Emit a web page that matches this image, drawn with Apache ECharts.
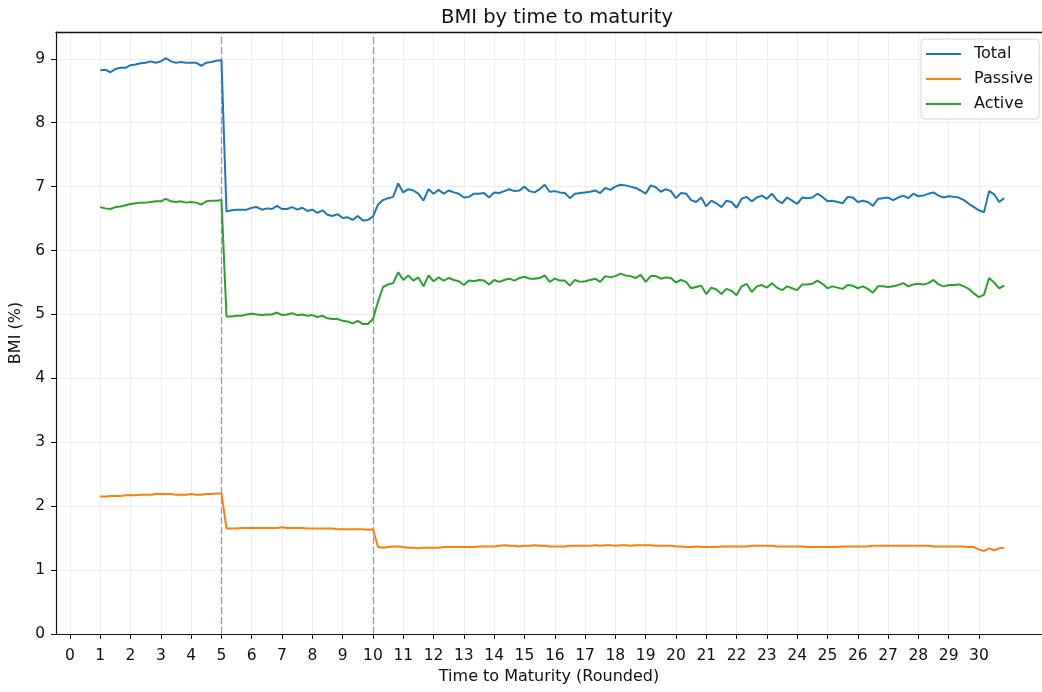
<!DOCTYPE html>
<html>
<head>
<meta charset="utf-8">
<script src="https://cdn.jsdelivr.net/npm/echarts@6/dist/echarts.min.js"></script>
<style>
  html, body { margin: 0; padding: 0; background: #fff; }
  #chart { width: 1042px; height: 692px; }
</style>
</head>
<body>
<div id="chart"></div>
<script>
// Sampling grid of the x values (years to maturity)
const maturityStart = 1;
const maturityStep = 1 / 6;

const seriesNames = ['Total', 'Passive', 'Active'];

const total = [
  8.82, 8.83, 8.79, 8.84, 8.86, 8.86, 8.90, 8.91, 8.93, 8.94, 8.96, 8.94, 8.96, 9.01, 8.96, 8.94, 8.95, 8.94, 8.94, 8.94, 8.89, 8.94, 8.95, 8.97, 8.98,
  6.61, 6.63, 6.64, 6.64, 6.64, 6.67, 6.68, 6.64, 6.66, 6.65, 6.70, 6.65, 6.65, 6.68, 6.64, 6.67, 6.62, 6.64, 6.59, 6.63, 6.56, 6.54, 6.57, 6.51, 6.52, 6.48, 6.54, 6.47, 6.48, 6.53,
  6.72, 6.79, 6.82, 6.84, 7.05, 6.91,
  6.96, 6.94, 6.89, 6.78, 6.96, 6.89,
  6.95, 6.89, 6.94, 6.91, 6.89, 6.83,
  6.84, 6.89, 6.89, 6.90, 6.83, 6.91,
  6.90, 6.93, 6.96, 6.93, 6.94, 7.00,
  6.93, 6.91, 6.96, 7.03, 6.92, 6.93,
  6.91, 6.90, 6.82, 6.89, 6.90, 6.91,
  6.92, 6.94, 6.90, 6.98, 6.95, 7.00,
  7.03, 7.02, 7.00, 6.98, 6.94, 6.89,
  7.02, 6.99, 6.92, 6.96, 6.93, 6.82,
  6.90, 6.89, 6.79, 6.76, 6.83, 6.69,
  6.78, 6.74, 6.68, 6.78, 6.76, 6.67,
  6.81, 6.84, 6.77, 6.83, 6.86, 6.81,
  6.89, 6.79, 6.74, 6.83, 6.78, 6.73,
  6.83, 6.82, 6.83, 6.89, 6.84, 6.77,
  6.78, 6.76, 6.74, 6.84, 6.83, 6.76,
  6.78, 6.76, 6.70, 6.81, 6.82, 6.83,
  6.79, 6.83, 6.86, 6.82, 6.89, 6.85,
  6.86, 6.89, 6.91, 6.86, 6.83, 6.85,
  6.84, 6.83, 6.79, 6.73, 6.68, 6.63,
  6.60, 6.93, 6.88, 6.76, 6.82
];

const passive = [
  2.15, 2.15, 2.16, 2.16, 2.16, 2.17, 2.17, 2.17, 2.18, 2.18, 2.18, 2.19, 2.19, 2.19, 2.19, 2.18, 2.18, 2.18, 2.19, 2.18, 2.18, 2.19, 2.19, 2.20, 2.20,
  1.65, 1.65, 1.65, 1.66, 1.66, 1.66, 1.66, 1.66, 1.66, 1.66, 1.66, 1.67, 1.66, 1.66, 1.66, 1.66, 1.65, 1.65, 1.65, 1.65, 1.65, 1.65, 1.64, 1.64, 1.64, 1.64, 1.64, 1.64, 1.63, 1.64,
  1.36, 1.35, 1.36, 1.37, 1.37, 1.36,
  1.35, 1.35, 1.34, 1.35, 1.35, 1.35,
  1.35, 1.36, 1.36, 1.36, 1.36, 1.36,
  1.36, 1.36, 1.37, 1.37, 1.37, 1.37,
  1.38, 1.39, 1.38, 1.38, 1.37, 1.38,
  1.38, 1.39, 1.38, 1.38, 1.37, 1.37,
  1.37, 1.37, 1.38, 1.38, 1.38, 1.38,
  1.38, 1.39, 1.38, 1.39, 1.39, 1.38,
  1.39, 1.39, 1.38, 1.39, 1.39, 1.39,
  1.39, 1.38, 1.38, 1.38, 1.38, 1.37,
  1.37, 1.36, 1.36, 1.37, 1.36, 1.36,
  1.36, 1.36, 1.37, 1.37, 1.37, 1.37,
  1.37, 1.37, 1.38, 1.38, 1.38, 1.38,
  1.38, 1.37, 1.37, 1.37, 1.37, 1.37,
  1.37, 1.36, 1.36, 1.36, 1.36, 1.36,
  1.36, 1.36, 1.37, 1.37, 1.37, 1.37,
  1.37, 1.37, 1.38, 1.38, 1.38, 1.38,
  1.38, 1.38, 1.38, 1.38, 1.38, 1.38,
  1.38, 1.38, 1.37, 1.37, 1.37, 1.37,
  1.37, 1.37, 1.37, 1.36, 1.36, 1.32,
  1.30, 1.34, 1.31, 1.34, 1.35
];

const active = [
  6.68, 6.66, 6.65, 6.68, 6.69, 6.71, 6.73, 6.74, 6.75, 6.75, 6.76, 6.77, 6.77, 6.81, 6.77, 6.76, 6.77, 6.75, 6.76, 6.75, 6.72, 6.77, 6.78, 6.78, 6.79,
  4.97, 4.97, 4.98, 4.98, 5.00, 5.01, 5.00, 4.99, 5.00, 5.00, 5.03, 4.99, 5.00, 5.02, 4.99, 5.00, 4.98, 4.99, 4.96, 4.98, 4.94, 4.93, 4.93, 4.90, 4.89, 4.86, 4.90, 4.85, 4.85, 4.93,
  5.20, 5.43, 5.47, 5.49, 5.66, 5.54,
  5.61, 5.53, 5.58, 5.44, 5.61, 5.52,
  5.58, 5.53, 5.57, 5.54, 5.52, 5.46,
  5.53, 5.52, 5.54, 5.53, 5.47, 5.54,
  5.51, 5.54, 5.56, 5.53, 5.57, 5.59,
  5.56, 5.56, 5.57, 5.61, 5.51, 5.56,
  5.53, 5.53, 5.45, 5.54, 5.51, 5.52,
  5.54, 5.56, 5.51, 5.60, 5.58, 5.60,
  5.64, 5.61, 5.60, 5.57, 5.62, 5.51,
  5.60, 5.60, 5.56, 5.58, 5.57, 5.50,
  5.54, 5.51, 5.41, 5.43, 5.45, 5.32,
  5.42, 5.39, 5.32, 5.40, 5.37, 5.30,
  5.44, 5.48, 5.35, 5.44, 5.46, 5.42,
  5.49, 5.42, 5.38, 5.44, 5.41, 5.38,
  5.47, 5.47, 5.48, 5.53, 5.48, 5.41,
  5.44, 5.42, 5.40, 5.46, 5.45, 5.41,
  5.44, 5.40, 5.34, 5.44, 5.44, 5.43,
  5.44, 5.46, 5.49, 5.44, 5.47, 5.48,
  5.47, 5.49, 5.54, 5.47, 5.44, 5.46,
  5.46, 5.47, 5.44, 5.40, 5.33, 5.27,
  5.31, 5.57, 5.50, 5.41, 5.45
];

const xTicks = [0,1,2,3,4,5,6,7,8,9,10,11,12,13,14,15,16,17,18,19,20,21,22,23,24,25,26,27,28,29,30];
const yTicks = [0,1,2,3,4,5,6,7,8,9];
const dividers = [5, 10];

const colors = ['#1f77b4', '#ff7f0e', '#2ca02c'];
const FONT = 'DejaVu Sans';

function toPairs(values) {
  return values.map((v, i) => [maturityStart + i * maturityStep, v]);
}

const chart = echarts.init(document.getElementById('chart'), null, { renderer: 'canvas' });

const gridLine = { show: true, lineStyle: { color: '#ededed', width: 1 } };

const option = {
  animation: false,
  backgroundColor: '#ffffff',
  color: colors,
  title: {
    text: 'BMI by time to maturity',
    left: 552, top: 3, textAlign: 'center',
    textStyle: { fontFamily: FONT, fontSize: 19.5, fontWeight: 'normal', color: '#111' }
  },
  legend: {
    data: seriesNames,
    orient: 'vertical',
    left: 921, top: 39,
    padding: [6, 6, 6, 5],
    itemGap: 7,
    itemWidth: 35, itemHeight: 2.2,
    icon: 'rect',
    backgroundColor: 'rgba(255,255,255,0.9)',
    borderColor: '#d4d4d4', borderWidth: 1, borderRadius: 4,
    textStyle: { fontFamily: FONT, fontSize: 16, color: '#111', lineHeight: 18, padding: [0, 0, 0, 8] }
  },
  grid: {
    left: 56, top: 32, right: 0, bottom: 58,
    show: false
  },
  xAxis: [
    {
      type: 'value',
      min: -0.46, max: 32.08,
      name: 'Time to Maturity (Rounded)',
      nameLocation: 'middle', nameGap: 35,
      nameTextStyle: { fontFamily: FONT, fontSize: 16, color: '#111' },
      axisLine: { show: true, onZero: false, lineStyle: { color: '#111', width: 1.2 } },
      axisTick: { show: true, inside: false, length: 5, customValues: xTicks, lineStyle: { color: '#111' } },
      axisLabel: { customValues: xTicks, margin: 14, fontFamily: FONT, fontSize: 15.5, color: '#111' },
      splitLine: gridLine
    },
    {
      type: 'value', position: 'top',
      min: -0.46, max: 32.08,
      axisLine: { show: true, onZero: false, lineStyle: { color: '#111', width: 1.4 } },
      axisTick: { show: false }, axisLabel: { show: false }, splitLine: { show: false }
    }
  ],
  yAxis: {
    type: 'value',
    min: 0, max: 9.42,
    name: 'BMI (%)',
    nameLocation: 'middle', nameGap: 28, nameRotate: 90,
    nameTextStyle: { fontFamily: FONT, fontSize: 16, color: '#111' },
    axisLine: { show: true, onZero: false, lineStyle: { color: '#111', width: 1.2 } },
    axisTick: { show: true, inside: false, length: 5, customValues: yTicks, lineStyle: { color: '#111' } },
    axisLabel: { customValues: yTicks, margin: 11, fontFamily: FONT, fontSize: 15.5, color: '#111' },
    splitLine: gridLine
  },
  series: [
    {
      name: seriesNames[0], type: 'line', data: toPairs(total),
      symbol: 'none', lineStyle: { width: 2, color: colors[0] }, z: 3,
      markLine: {
        silent: true, symbol: 'none', label: { show: false },
        lineStyle: { type: [7, 3], color: 'rgba(95,95,215,0.65)', width: 1.3 },
        data: dividers.map(d => ({ xAxis: d })),
        z: 1
      }
    },
    { name: seriesNames[1], type: 'line', data: toPairs(passive), symbol: 'none', lineStyle: { width: 2, color: colors[1] }, z: 3 },
    { name: seriesNames[2], type: 'line', data: toPairs(active), symbol: 'none', lineStyle: { width: 2, color: colors[2] }, z: 3 }
  ]
};

chart.setOption(option);
</script>
</body>
</html>
